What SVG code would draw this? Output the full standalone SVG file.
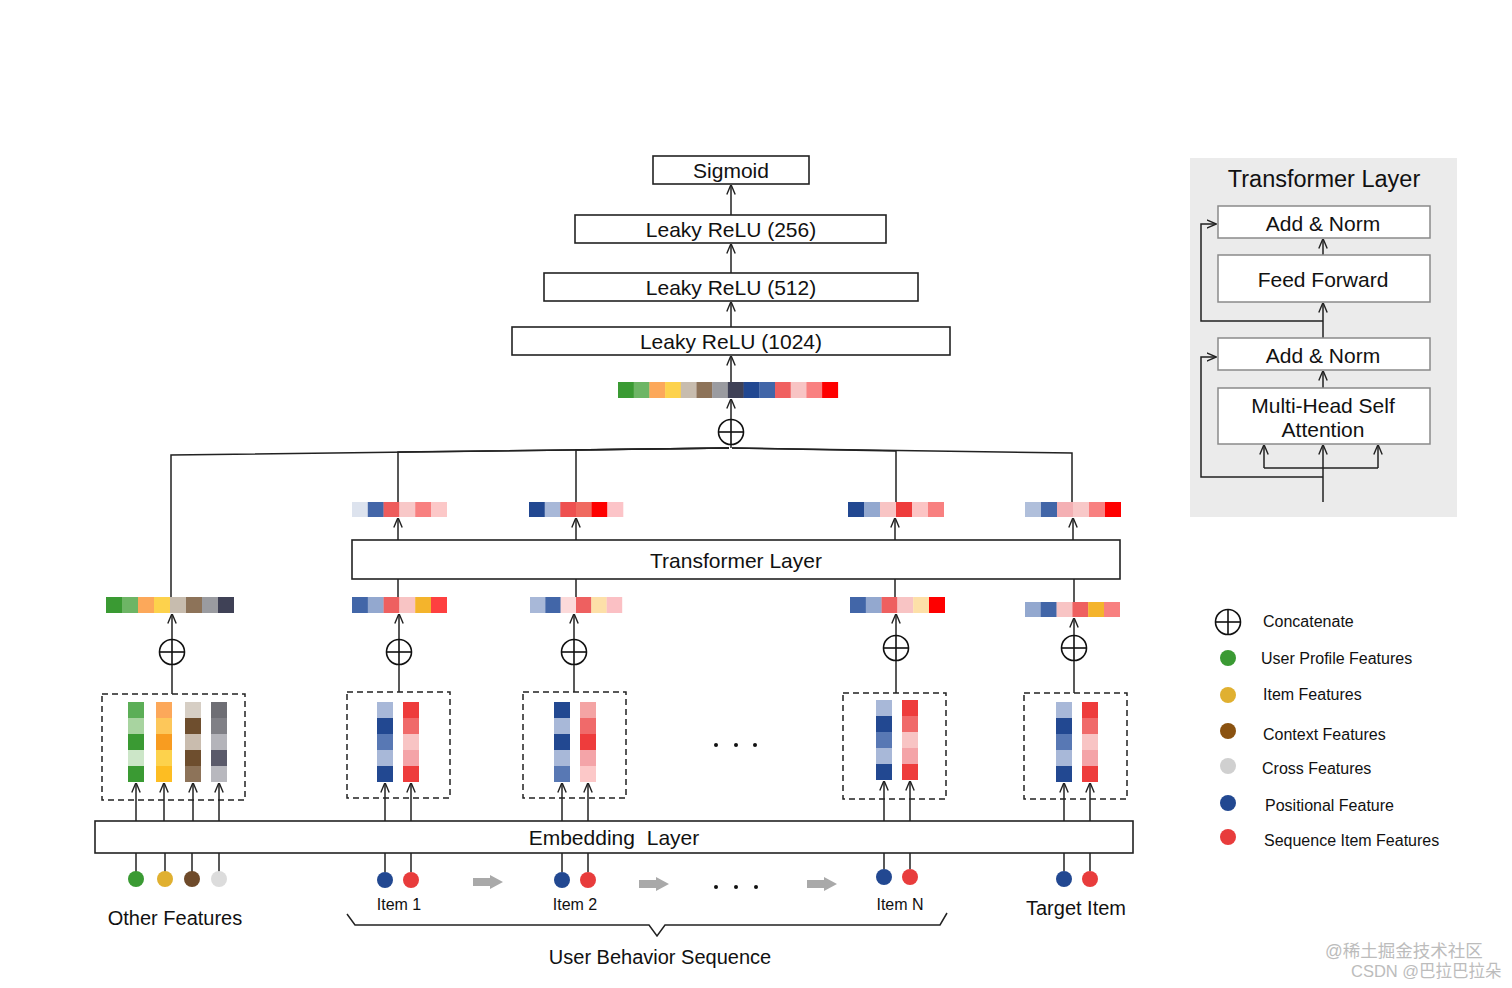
<svg xmlns="http://www.w3.org/2000/svg" width="1512" height="988" viewBox="0 0 1512 988">
<style>
text{font-family:"Liberation Sans","Noto Sans",Arial,sans-serif;fill:#111}
.box{fill:#fff;stroke:#222;stroke-width:1.6}
.pbox{fill:#fff;stroke:#8a8a8a;stroke-width:1.5}
.dash{fill:none;stroke:#222;stroke-width:1.5;stroke-dasharray:6 4}
.ln{fill:none;stroke:#222;stroke-width:1.5}
.ar{fill:none;stroke:#222;stroke-width:1.5;marker-end:url(#ah)}
.t21{font-size:21px}
.t20{font-size:20px}
.t16{font-size:16px}
.mid{text-anchor:middle}
.gar{fill:#a9a9a9}
</style>
<defs>
<marker id="ah" viewBox="0 0 10 10" refX="9.5" refY="5" markerWidth="10" markerHeight="10" markerUnits="userSpaceOnUse" orient="auto">
<path d="M0,0.8 L10,5 L0,9.2" fill="none" stroke="#222" stroke-width="1.4"/>
</marker>
<g id="cat">
<circle r="12.5" fill="#fff" stroke="#111" stroke-width="1.6"/>
<line x1="-12.5" y1="0" x2="12.5" y2="0" stroke="#111" stroke-width="1.6"/>
<line x1="0" y1="-12.5" x2="0" y2="12.5" stroke="#111" stroke-width="1.6"/>
</g>
</defs>
<rect width="1512" height="988" fill="#fff"/>

<!-- connectors -->
<g id="connectors">
<line class="ar" x1="731" y1="215" x2="731" y2="185"/>
<line class="ar" x1="731" y1="273" x2="731" y2="244"/>
<line class="ar" x1="731" y1="327" x2="731" y2="302"/>
<line class="ar" x1="731" y1="382" x2="731" y2="356"/>
<line class="ar" x1="731" y1="420" x2="731" y2="399"/>
<line class="ln" x1="731" y1="444" x2="731" y2="448"/>
<polyline class="ln" points="171,597 171,455 729,448"/>
<polyline class="ln" points="398,502 398,452 729,448"/>
<polyline class="ln" points="576,502 576,450 729,448"/>
<polyline class="ln" points="896,502 896,451 732,448"/>
<polyline class="ln" points="1072,502 1072,453 732,448"/>
<!-- transformer to upper bars -->
<line class="ar" x1="398" y1="540" x2="398" y2="518"/>
<line class="ar" x1="576" y1="540" x2="576" y2="518"/>
<line class="ar" x1="895" y1="540" x2="895" y2="518"/>
<line class="ar" x1="1073" y1="540" x2="1073" y2="518"/>
<!-- lower bars to transformer -->
<line class="ln" x1="398" y1="579" x2="398" y2="597"/>
<line class="ln" x1="576" y1="579" x2="576" y2="597"/>
<line class="ln" x1="895" y1="579" x2="895" y2="597"/>
<line class="ln" x1="1074" y1="579" x2="1074" y2="602"/>
<!-- concat to lower bars -->
<line class="ar" x1="172" y1="640" x2="172" y2="614"/>
<line class="ar" x1="399" y1="640" x2="399" y2="614"/>
<line class="ar" x1="574" y1="640" x2="574" y2="614"/>
<line class="ar" x1="896" y1="636" x2="896" y2="614"/>
<line class="ar" x1="1074" y1="636" x2="1074" y2="618"/>
<!-- dashed boxes to concat -->
<line class="ln" x1="172" y1="664" x2="172" y2="694"/>
<line class="ln" x1="399" y1="664" x2="399" y2="692"/>
<line class="ln" x1="574" y1="664" x2="574" y2="692"/>
<line class="ln" x1="896" y1="660" x2="896" y2="693"/>
<line class="ln" x1="1074" y1="660" x2="1074" y2="693"/>
<!-- embedding to stripes -->
<line class="ar" x1="136" y1="821" x2="136" y2="783"/>
<line class="ar" x1="164" y1="821" x2="164" y2="783"/>
<line class="ar" x1="193" y1="821" x2="193" y2="783"/>
<line class="ar" x1="219" y1="821" x2="219" y2="783"/>
<line class="ar" x1="385" y1="821" x2="385" y2="783"/>
<line class="ar" x1="411" y1="821" x2="411" y2="783"/>
<line class="ar" x1="562" y1="821" x2="562" y2="783"/>
<line class="ar" x1="588" y1="821" x2="588" y2="783"/>
<line class="ar" x1="884" y1="821" x2="884" y2="781"/>
<line class="ar" x1="910" y1="821" x2="910" y2="781"/>
<line class="ar" x1="1064" y1="821" x2="1064" y2="783"/>
<line class="ar" x1="1090" y1="821" x2="1090" y2="783"/>
<!-- inputs to embedding -->
<line class="ln" x1="136" y1="853" x2="136" y2="872"/>
<line class="ln" x1="165" y1="853" x2="165" y2="872"/>
<line class="ln" x1="192" y1="853" x2="192" y2="872"/>
<line class="ln" x1="219" y1="853" x2="219" y2="872"/>
<line class="ln" x1="385" y1="853" x2="385" y2="872"/>
<line class="ln" x1="411" y1="853" x2="411" y2="872"/>
<line class="ln" x1="562" y1="853" x2="562" y2="872"/>
<line class="ln" x1="588" y1="853" x2="588" y2="872"/>
<line class="ln" x1="884" y1="853" x2="884" y2="869"/>
<line class="ln" x1="910" y1="853" x2="910" y2="869"/>
<line class="ln" x1="1064" y1="853" x2="1064" y2="871"/>
<line class="ln" x1="1090" y1="853" x2="1090" y2="871"/>
<!-- sequence arrows -->
<polygon class="gar" points="473,878 490,878 490,875 503,882 490,889 490,886 473,886"/>
<polygon class="gar" points="639,880 656,880 656,877 669,884 656,891 656,888 639,888"/>
<polygon class="gar" points="807,880 824,880 824,877 837,884 824,891 824,888 807,888"/>
<!-- brace -->
<polyline class="ln" points="347,914 355,925 649,925 657,936 665,925 940,925 947,913"/>
</g>

<!-- top MLP stack -->
<g id="sigmoid"><rect class="box" x="653" y="156" width="156" height="28"/><text class="t21 mid" x="731" y="178">Sigmoid</text></g>
<g id="relu256"><rect class="box" x="575" y="215" width="311" height="28"/><text class="t21 mid" x="731" y="237">Leaky ReLU (256)</text></g>
<g id="relu512"><rect class="box" x="544" y="273" width="374" height="28"/><text class="t21 mid" x="731" y="295">Leaky ReLU (512)</text></g>
<g id="relu1024"><rect class="box" x="512" y="327" width="438" height="28"/><text class="t21 mid" x="731" y="349">Leaky ReLU (1024)</text></g>

<g id="concat-bar">
<rect x="618" y="382" width="16" height="16" fill="#3a9a33"/>
<rect x="633.7" y="382" width="16" height="16" fill="#6db565"/>
<rect x="649.4" y="382" width="16" height="16" fill="#fca85a"/>
<rect x="665.1" y="382" width="16" height="16" fill="#fdd24c"/>
<rect x="680.8" y="382" width="16" height="16" fill="#c7bcae"/>
<rect x="696.5" y="382" width="16" height="16" fill="#8d7359"/>
<rect x="712.2" y="382" width="16" height="16" fill="#9a9ba0"/>
<rect x="727.9" y="382" width="16" height="16" fill="#3f4156"/>
<rect x="743.6" y="382" width="16" height="16" fill="#224891"/>
<rect x="759.3" y="382" width="16" height="16" fill="#4266a8"/>
<rect x="775" y="382" width="16" height="16" fill="#f06060"/>
<rect x="790.7" y="382" width="16" height="16" fill="#f8c4c4"/>
<rect x="806.4" y="382" width="16" height="16" fill="#f98080"/>
<rect x="822.1" y="382" width="16" height="16" fill="#fe0000"/>
</g>
<g id="concat-top"><use href="#cat" x="731" y="432"/></g>

<!-- transformer outputs -->
<g id="out-item1">
<rect x="352" y="502" width="16" height="15" fill="#dde3ee"/>
<rect x="367.8" y="502" width="16" height="15" fill="#4466a8"/>
<rect x="383.6" y="502" width="16" height="15" fill="#ee5c5c"/>
<rect x="399.4" y="502" width="16" height="15" fill="#f8c8c8"/>
<rect x="415.2" y="502" width="16" height="15" fill="#f88080"/>
<rect x="431" y="502" width="16" height="15" fill="#fcc8c8"/>
</g>
<g id="out-item2">
<rect x="529" y="502" width="16" height="15" fill="#224891"/>
<rect x="544.7" y="502" width="16" height="15" fill="#a8b8d8"/>
<rect x="560.3" y="502" width="16" height="15" fill="#ee5050"/>
<rect x="576" y="502" width="16" height="15" fill="#f06a60"/>
<rect x="591.7" y="502" width="16" height="15" fill="#fe0000"/>
<rect x="607.3" y="502" width="16" height="15" fill="#fcc4c8"/>
</g>
<g id="out-itemN">
<rect x="848" y="502" width="16" height="15" fill="#224891"/>
<rect x="864" y="502" width="16" height="15" fill="#93a8cf"/>
<rect x="880" y="502" width="16" height="15" fill="#f8c4c4"/>
<rect x="896" y="502" width="16" height="15" fill="#ee3c3c"/>
<rect x="912" y="502" width="16" height="15" fill="#fcc4c4"/>
<rect x="928" y="502" width="16" height="15" fill="#f88080"/>
</g>
<g id="out-target">
<rect x="1025" y="502" width="16" height="15" fill="#b0bfdb"/>
<rect x="1041" y="502" width="16" height="15" fill="#4266a8"/>
<rect x="1057" y="502" width="16" height="15" fill="#f4b0b4"/>
<rect x="1073" y="502" width="16" height="15" fill="#f8c8c8"/>
<rect x="1089" y="502" width="16" height="15" fill="#f88080"/>
<rect x="1105" y="502" width="16" height="15" fill="#fe0000"/>
</g>

<g id="transformer-layer"><rect class="box" x="352" y="540" width="768" height="39"/><text class="t21 mid" x="736" y="568">Transformer Layer</text></g>

<!-- concatenated inputs -->
<g id="in-other">
<rect x="106" y="597" width="16" height="16" fill="#3a9a33"/>
<rect x="122" y="597" width="16" height="16" fill="#6db565"/>
<rect x="138" y="597" width="16" height="16" fill="#fca85a"/>
<rect x="154" y="597" width="16" height="16" fill="#fdd24c"/>
<rect x="170" y="597" width="16" height="16" fill="#c7bcae"/>
<rect x="186" y="597" width="16" height="16" fill="#8d7359"/>
<rect x="202" y="597" width="16" height="16" fill="#9a9ba0"/>
<rect x="218" y="597" width="16" height="16" fill="#3f4156"/>
</g>
<g id="in-item1">
<rect x="352" y="597" width="16" height="16" fill="#4266a8"/>
<rect x="367.8" y="597" width="16" height="16" fill="#93a8cf"/>
<rect x="383.6" y="597" width="16" height="16" fill="#ee6060"/>
<rect x="399.4" y="597" width="16" height="16" fill="#f8c4c4"/>
<rect x="415.2" y="597" width="16" height="16" fill="#f4b42c"/>
<rect x="431" y="597" width="16" height="16" fill="#fe4040"/>
</g>
<g id="in-item2">
<rect x="530" y="597" width="15.5" height="16" fill="#a8b8d8"/>
<rect x="545.3" y="597" width="15.5" height="16" fill="#4266a8"/>
<rect x="560.7" y="597" width="15.5" height="16" fill="#fcdada"/>
<rect x="576" y="597" width="15.5" height="16" fill="#ee6060"/>
<rect x="591.3" y="597" width="15.5" height="16" fill="#fde0a8"/>
<rect x="606.7" y="597" width="15.5" height="16" fill="#fbc0c4"/>
</g>
<g id="in-itemN">
<rect x="850" y="597" width="16" height="16" fill="#4266a8"/>
<rect x="865.8" y="597" width="16" height="16" fill="#93a8cf"/>
<rect x="881.6" y="597" width="16" height="16" fill="#ee6060"/>
<rect x="897.4" y="597" width="16" height="16" fill="#f8c4c4"/>
<rect x="913.2" y="597" width="16" height="16" fill="#fde0a8"/>
<rect x="929" y="597" width="16" height="16" fill="#fe0000"/>
</g>
<g id="in-target">
<rect x="1025" y="602" width="16" height="15" fill="#93a8cf"/>
<rect x="1040.8" y="602" width="16" height="15" fill="#4266a8"/>
<rect x="1056.6" y="602" width="16" height="15" fill="#f8c4c4"/>
<rect x="1072.4" y="602" width="16" height="15" fill="#ee6060"/>
<rect x="1088.2" y="602" width="16" height="15" fill="#f4b42c"/>
<rect x="1104" y="602" width="16" height="15" fill="#f88080"/>
</g>

<g id="concat-other"><use href="#cat" x="172" y="652"/></g>
<g id="concat-item1"><use href="#cat" x="399" y="652"/></g>
<g id="concat-item2"><use href="#cat" x="574" y="652"/></g>
<g id="concat-itemN"><use href="#cat" x="896" y="648"/></g>
<g id="concat-target"><use href="#cat" x="1074" y="648"/></g>

<!-- embedding groups -->
<g id="emb-other">
<rect class="dash" x="102" y="694" width="143" height="106"/>
<rect x="128" y="702" width="16" height="16" fill="#5cae57"/>
<rect x="128" y="718" width="16" height="16" fill="#a8d4a0"/>
<rect x="128" y="734" width="16" height="16" fill="#3a9a33"/>
<rect x="128" y="750" width="16" height="16" fill="#cce6c8"/>
<rect x="128" y="766" width="16" height="16" fill="#3a9a33"/>
<rect x="156" y="702" width="16" height="16" fill="#fca85a"/>
<rect x="156" y="718" width="16" height="16" fill="#fdc75a"/>
<rect x="156" y="734" width="16" height="16" fill="#f89c20"/>
<rect x="156" y="750" width="16" height="16" fill="#fdd24c"/>
<rect x="156" y="766" width="16" height="16" fill="#fdbd22"/>
<rect x="185" y="702" width="16" height="16" fill="#d6cec4"/>
<rect x="185" y="718" width="16" height="16" fill="#6e4e2e"/>
<rect x="185" y="734" width="16" height="16" fill="#c9bcae"/>
<rect x="185" y="750" width="16" height="16" fill="#6e4e2e"/>
<rect x="185" y="766" width="16" height="16" fill="#8d7359"/>
<rect x="211" y="702" width="16" height="16" fill="#6e6e74"/>
<rect x="211" y="718" width="16" height="16" fill="#808086"/>
<rect x="211" y="734" width="16" height="16" fill="#b4b4ba"/>
<rect x="211" y="750" width="16" height="16" fill="#5a5a6a"/>
<rect x="211" y="766" width="16" height="16" fill="#b8b8be"/>
</g>
<g id="emb-item1">
<rect class="dash" x="347" y="692" width="103" height="106"/>
<rect x="377" y="702" width="16" height="16" fill="#a8b8d8"/>
<rect x="377" y="718" width="16" height="16" fill="#224891"/>
<rect x="377" y="734" width="16" height="16" fill="#5878b4"/>
<rect x="377" y="750" width="16" height="16" fill="#a8b8d8"/>
<rect x="377" y="766" width="16" height="16" fill="#224891"/>
<rect x="403" y="702" width="16" height="16" fill="#ee3c3c"/>
<rect x="403" y="718" width="16" height="16" fill="#f06a6a"/>
<rect x="403" y="734" width="16" height="16" fill="#f8c4c4"/>
<rect x="403" y="750" width="16" height="16" fill="#f4a4a8"/>
<rect x="403" y="766" width="16" height="16" fill="#ee3c3c"/>
</g>
<g id="emb-item2">
<rect class="dash" x="523" y="692" width="103" height="106"/>
<rect x="554" y="702" width="16" height="16" fill="#224891"/>
<rect x="554" y="718" width="16" height="16" fill="#a8b8d8"/>
<rect x="554" y="734" width="16" height="16" fill="#224891"/>
<rect x="554" y="750" width="16" height="16" fill="#a8b8d8"/>
<rect x="554" y="766" width="16" height="16" fill="#5878b4"/>
<rect x="580" y="702" width="16" height="16" fill="#f4a4a4"/>
<rect x="580" y="718" width="16" height="16" fill="#f06a6a"/>
<rect x="580" y="734" width="16" height="16" fill="#ee3c3c"/>
<rect x="580" y="750" width="16" height="16" fill="#f4a4a8"/>
<rect x="580" y="766" width="16" height="16" fill="#fcc8c8"/>
</g>
<g id="emb-itemN">
<rect class="dash" x="843" y="693" width="103" height="106"/>
<rect x="876" y="700" width="16" height="16" fill="#a8b8d8"/>
<rect x="876" y="716" width="16" height="16" fill="#224891"/>
<rect x="876" y="732" width="16" height="16" fill="#5878b4"/>
<rect x="876" y="748" width="16" height="16" fill="#a8b8d8"/>
<rect x="876" y="764" width="16" height="16" fill="#224891"/>
<rect x="902" y="700" width="16" height="16" fill="#ee3c3c"/>
<rect x="902" y="716" width="16" height="16" fill="#f06a6a"/>
<rect x="902" y="732" width="16" height="16" fill="#f8c4c4"/>
<rect x="902" y="748" width="16" height="16" fill="#f4a4a8"/>
<rect x="902" y="764" width="16" height="16" fill="#ee3c3c"/>
</g>
<g id="emb-target">
<rect class="dash" x="1024" y="693" width="103" height="106"/>
<rect x="1056" y="702" width="16" height="16" fill="#a8b8d8"/>
<rect x="1056" y="718" width="16" height="16" fill="#224891"/>
<rect x="1056" y="734" width="16" height="16" fill="#5878b4"/>
<rect x="1056" y="750" width="16" height="16" fill="#a8b8d8"/>
<rect x="1056" y="766" width="16" height="16" fill="#224891"/>
<rect x="1082" y="702" width="16" height="16" fill="#ee3c3c"/>
<rect x="1082" y="718" width="16" height="16" fill="#f06a6a"/>
<rect x="1082" y="734" width="16" height="16" fill="#f8c4c4"/>
<rect x="1082" y="750" width="16" height="16" fill="#f4a4a8"/>
<rect x="1082" y="766" width="16" height="16" fill="#ee3c3c"/>
</g>
<g id="ellipsis-mid">
<circle cx="716" cy="745" r="2" fill="#111"/>
<circle cx="736" cy="745" r="2" fill="#111"/>
<circle cx="755" cy="745" r="2" fill="#111"/>
</g>

<g id="embedding-layer"><rect class="box" x="95" y="821" width="1038" height="32"/><text class="t21 mid" x="614" y="845" word-spacing="6">Embedding Layer</text></g>

<!-- inputs -->
<g id="other-features">
<circle cx="136" cy="879" r="8" fill="#3a9a33"/>
<circle cx="165" cy="879" r="8" fill="#e0b030"/>
<circle cx="192" cy="879" r="8" fill="#6e4a2a"/>
<circle cx="219" cy="879" r="8" fill="#dcdcdc"/>
<text class="t20 mid" x="175" y="925">Other Features</text>
</g>
<g id="item1">
<circle cx="385" cy="880" r="8" fill="#224891"/>
<circle cx="411" cy="880" r="8" fill="#e83c3c"/>
<text class="t16 mid" x="399" y="910">Item 1</text>
</g>
<g id="item2">
<circle cx="562" cy="880" r="8" fill="#224891"/>
<circle cx="588" cy="880" r="8" fill="#e83c3c"/>
<text class="t16 mid" x="575" y="910">Item 2</text>
</g>
<g id="ellipsis-bottom">
<circle cx="716" cy="887" r="2" fill="#111"/>
<circle cx="736" cy="887" r="2" fill="#111"/>
<circle cx="756" cy="887" r="2" fill="#111"/>
</g>
<g id="itemN">
<circle cx="884" cy="877" r="8" fill="#224891"/>
<circle cx="910" cy="877" r="8" fill="#e83c3c"/>
<text class="t16 mid" x="900" y="910">Item N</text>
</g>
<g id="target-item">
<circle cx="1064" cy="879" r="8" fill="#224891"/>
<circle cx="1090" cy="879" r="8" fill="#e83c3c"/>
<text class="t20 mid" x="1076" y="915">Target Item</text>
</g>
<g id="user-behavior-label"><text class="t20 mid" x="660" y="964">User Behavior Sequence</text></g>

<!-- transformer detail panel -->
<g id="tl-panel">
<rect x="1190" y="158" width="267" height="359" fill="#ebebeb"/>
<text class="mid" x="1324" y="187" font-size="23.5">Transformer Layer</text>
</g>
<g id="tl-connectors">
<line class="ar" x1="1323" y1="255" x2="1323" y2="239"/>
<line class="ar" x1="1323" y1="338" x2="1323" y2="303"/>
<path class="ar" d="M1323,321 H1201 V224 H1216"/>
<line class="ar" x1="1323" y1="388" x2="1323" y2="371"/>
<line class="ar" x1="1323" y1="502" x2="1323" y2="445"/>
<line class="ln" x1="1264" y1="468" x2="1378" y2="468"/>
<line class="ar" x1="1264" y1="468" x2="1264" y2="445"/>
<line class="ar" x1="1378" y1="468" x2="1378" y2="445"/>
<path class="ar" d="M1323,477 H1201 V357 H1216"/>
</g>
<g id="tl-addnorm2"><rect class="pbox" x="1218" y="206" width="212" height="32"/><text class="mid" font-size="21" x="1323" y="231">Add &amp; Norm</text></g>
<g id="tl-ff"><rect class="pbox" x="1218" y="255" width="212" height="47"/><text class="mid" font-size="21" x="1323" y="287">Feed Forward</text></g>
<g id="tl-addnorm1"><rect class="pbox" x="1218" y="338" width="212" height="32"/><text class="mid" font-size="21" x="1323" y="363">Add &amp; Norm</text></g>
<g id="tl-mhsa"><rect class="pbox" x="1218" y="388" width="212" height="56"/><text class="mid" font-size="21" x="1323" y="413">Multi-Head Self</text><text class="mid" font-size="21" x="1323" y="437">Attention</text></g>

<!-- legend -->
<g id="legend">
<use href="#cat" x="1228" y="622"/>
<text class="t16" x="1263" y="627">Concatenate</text>
<circle cx="1228" cy="658" r="8" fill="#3a9a33"/>
<text class="t16" x="1261" y="664">User Profile Features</text>
<circle cx="1228" cy="695" r="8" fill="#e0b030"/>
<text class="t16" x="1263" y="700">Item Features</text>
<circle cx="1228" cy="731" r="8" fill="#8a5210"/>
<text class="t16" x="1263" y="740">Context Features</text>
<circle cx="1228" cy="766" r="8" fill="#d0d0d0"/>
<text class="t16" x="1262" y="774">Cross Features</text>
<circle cx="1228" cy="803" r="8" fill="#224891"/>
<text class="t16" x="1265" y="811">Positional Feature</text>
<circle cx="1228" cy="837" r="8" fill="#e83c3c"/>
<text class="t16" x="1264" y="846">Sequence Item Features</text>
</g>

<g id="watermark" font-family="'Liberation Sans','Noto Sans CJK SC',sans-serif">
<text x="1325" y="957" font-size="17.5" style="fill:#bcbcbc;font-family:'Liberation Sans','Noto Sans CJK SC',sans-serif">@稀土掘金技术社区</text>
<text x="1351" y="977" font-size="16.5" style="fill:#bcbcbc;font-family:'Liberation Sans','Noto Sans CJK SC',sans-serif">CSDN @巴拉巴拉朵</text>
</g>
</svg>
